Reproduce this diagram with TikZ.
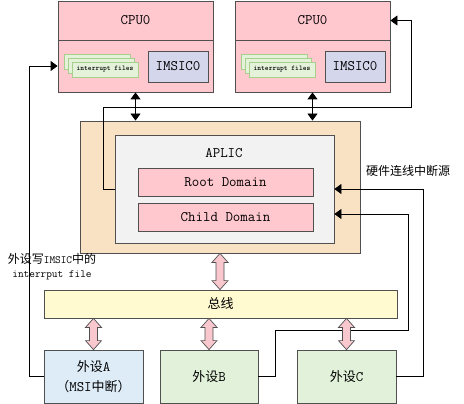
\documentclass[tikz,border=0pt]{standalone}
\usepackage{fontspec}
\newfontfamily\cjk{Noto Sans CJK SC}
\usetikzlibrary{arrows.meta,calc}
\definecolor{cpupink}{RGB}{255,199,206}
\definecolor{imsicblue}{RGB}{212,214,236}
\definecolor{filegreen}{RGB}{228,242,218}
\definecolor{filerim}{RGB}{168,208,141}
\definecolor{aplictan}{RGB}{249,226,195}
\definecolor{aplicgray}{RGB}{242,242,242}
\definecolor{busyellow}{RGB}{255,250,208}
\definecolor{devblue}{RGB}{222,236,248}
\definecolor{devgreen}{RGB}{226,242,218}
\definecolor{rimgray}{RGB}{80,80,80}
\definecolor{pinkarrow}{RGB}{248,200,206}

% fat pink double arrow between two points stacked vertically
\newcommand{\fatarrow}[2]{%
	\path[draw=rimgray, fill=pinkarrow, line width=0.7pt] let \p1=(#1), \p2=(#2) in
	(\x1,\y1) -- ++(8pt,-9pt) -- ++(-4pt,0pt) -- (\x1+4pt,\y2+9pt) -- ++(4pt,0pt)
	-- (\x1,\y2) -- ++(-8pt,9pt) -- ++(4pt,0pt) -- (\x1-4pt,\y1-9pt) -- ++(-4pt,0pt) -- cycle;}

\begin{document}
\begin{tikzpicture}[x=1pt, y=-1pt,
	block/.style={draw=rimgray, line width=0.8pt, inner sep=0pt, font=\ttfamily\fontsize{14.5}{16}\selectfont},
	filebox/.style={draw=filerim, fill=filegreen, line width=0.8pt, inner sep=0pt, minimum width=66pt, minimum height=15pt, font=\ttfamily\fontsize{7.2}{8}\selectfont\bfseries},
	dub/.style={line width=0.8pt, {Triangle[width=10pt,length=7pt]}-{Triangle[width=10pt,length=7pt]}},
	wire/.style={line width=0.8pt, -{Triangle[width=10pt,length=7pt]}}]
	\useasboundingbox (0,0) rectangle (464,404);

	% two cpus
	\foreach \cx/\s in {135.5/L, 312.5/R}{
		\node[block, fill=cpupink, minimum width=155pt, minimum height=39pt] (cpu\s head) at (\cx,20.5) {CPU0};
		\node[block, fill=cpupink, minimum width=155pt, minimum height=52pt] (cpu\s body) at (\cx,66) {};
		\node[block, fill=imsicblue, minimum width=60pt, minimum height=31pt] (imsic\s) at (\cx+42.5,66.5) {IMSIC0};
		\node[filebox] (file\s 0) at (\cx-38.5,61.5) {};
		\node[filebox] (file\s 1) at (\cx-34.5,65.5) {};
		\node[filebox] (file\s 2) at (\cx-30.5,69.5) {interrupt files};
	}

	% aplic
	\node[block, fill=aplictan, minimum width=280pt, minimum height=132pt] (aplic) at (220,187) {};
	\node[block, fill=aplicgray, minimum width=219pt, minimum height=108pt] (inner) at (224.5,189) {};
	\node[font=\ttfamily\fontsize{14.5}{16}\selectfont] (apliclabel) at (224,153) {APLIC};
	\node[block, fill=cpupink, minimum width=175pt, minimum height=28pt] (root) at (225.5,182) {Root Domain};
	\node[block, fill=cpupink, minimum width=175pt, minimum height=28pt] (child) at (225.5,217) {Child Domain};

	% bus and devices
	\node[block, fill=busyellow, minimum width=353pt, minimum height=28pt, font=\cjk\fontsize{13}{15}\selectfont] (bus) at (220.5,304) {总线};
	\node[block, fill=devblue, minimum width=99pt, minimum height=53pt, align=center, font=\ttfamily\fontsize{14.5}{20}\selectfont] (pA) at (93.5,376.5) {{\cjk\fontsize{13}{20}\selectfont 外设}A\\{\cjk\fontsize{13}{20}\selectfont （}MSI{\cjk\fontsize{13}{20}\selectfont 中断）}};
	\node[block, fill=devgreen, minimum width=98pt, minimum height=53pt] (pB) at (209,376.5) {{\cjk\fontsize{13}{15}\selectfont 外设}B};
	\node[block, fill=devgreen, minimum width=99pt, minimum height=53pt] (pC) at (346.5,376.5) {{\cjk\fontsize{13}{15}\selectfont 外设}C};

	\node[font=\cjk\fontsize{12}{14}\selectfont] (hwlabel) at (408,171) {硬件连线中断源};
	\node[align=center, font=\ttfamily\fontsize{11}{14}\selectfont] (msilabel) at (52,267) {{\cjk\fontsize{12}{14}\selectfont 外设写}IMSIC{\cjk\fontsize{12}{14}\selectfont 中的}\\interrput file};

	% black links
	\draw[dub] (cpuLbody.south) -- (cpuLbody.south |- aplic.north);
	\draw[dub] (cpuRbody.south) -- (cpuRbody.south |- aplic.north);
	\coordinate (loopR) at (411,107);
	\draw[wire] (inner.west) -- ++(-11,0) |- (loopR) |- (cpuRhead.east);
	\draw[wire] (pA.west) -- ++(-14,0) |- (cpuLbody.west);
	\draw[wire] (pC.east) -- ++(27,0) |- (inner.east);
	\coordinate (loopB) at (408,330);
	\draw[wire] (pB.east) -- ++(17,0) |- (loopB) |- ([yshift=3pt]inner.east |- child);

	% pink bus arrows
	\fatarrow{aplic.south}{aplic.south |- bus.north}
	\fatarrow{bus.south -| pA.north}{pA.north}
	\fatarrow{bus.south -| pB.north}{pB.north}
	\fatarrow{bus.south -| pC.north}{pC.north}
\end{tikzpicture}
\end{document}
